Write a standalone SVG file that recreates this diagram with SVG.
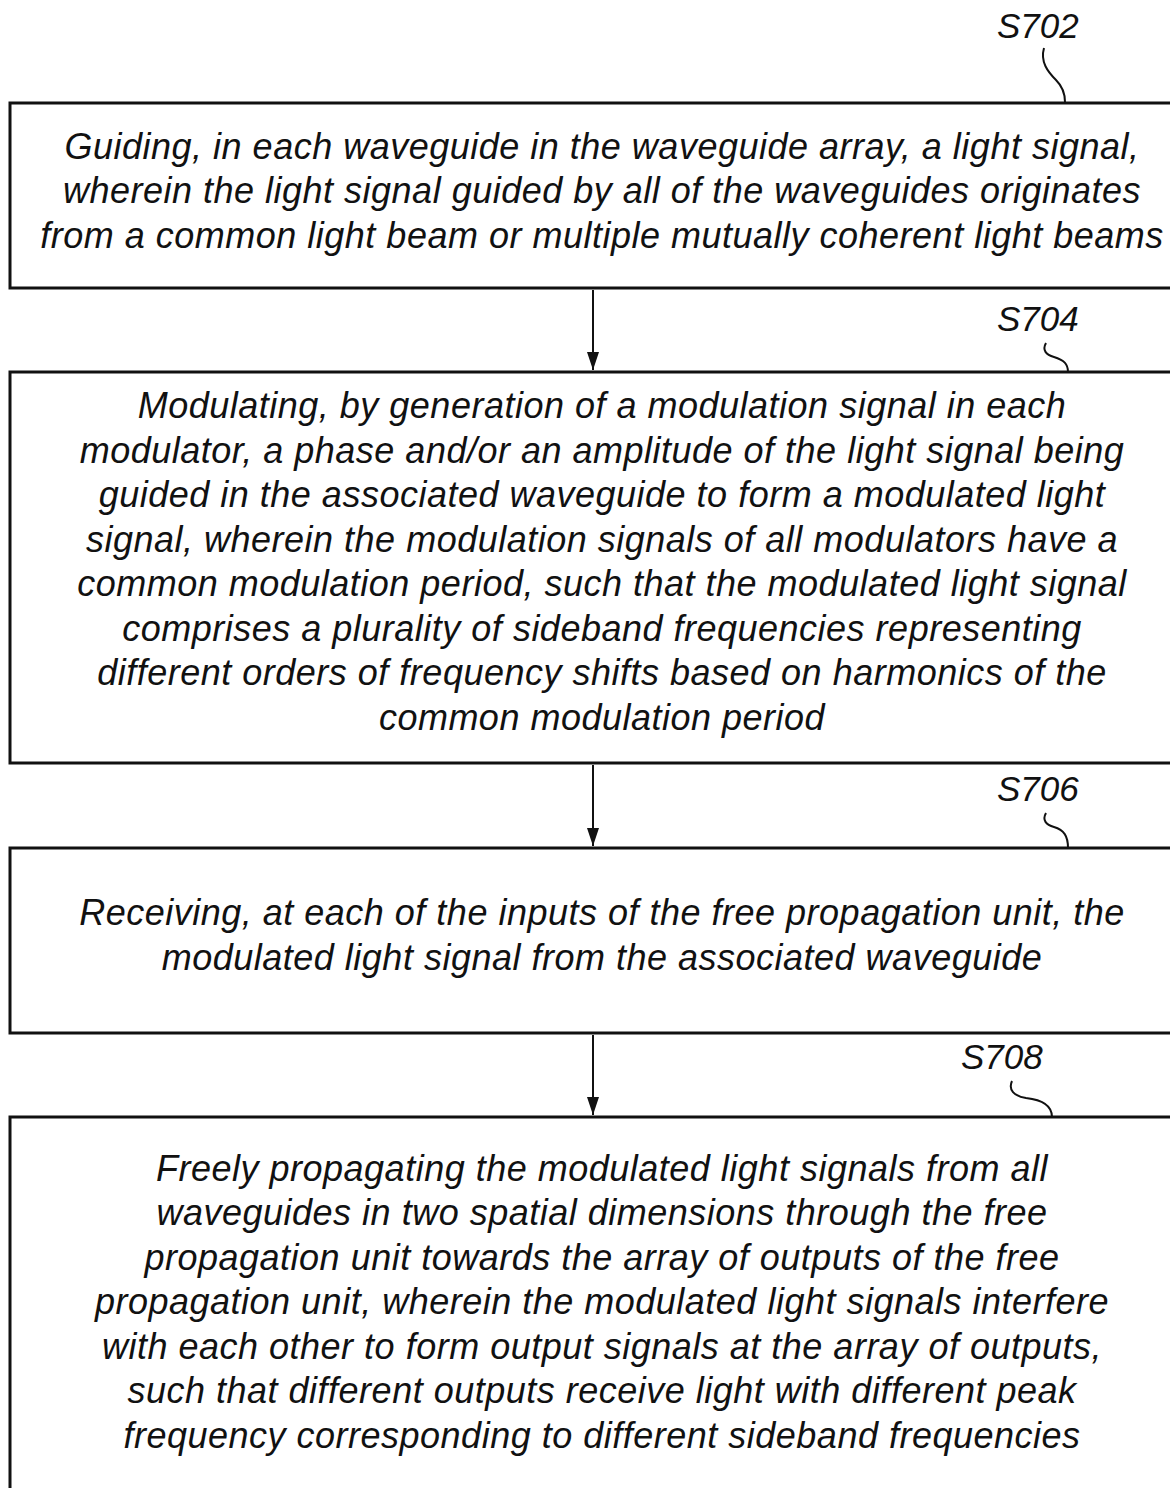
<svg xmlns="http://www.w3.org/2000/svg" width="1170" height="1488" viewBox="0 0 1170 1488">
  <defs>
    <style>
      .box { fill: #fff; stroke: #111; stroke-width: 3; }
      .txt { font-family: "Liberation Sans", Arial, sans-serif; font-style: italic; font-size: 36px; letter-spacing: 0.5px; fill: #111; text-anchor: middle; }
      .lbl { font-family: "Liberation Sans", Arial, sans-serif; font-style: italic; font-size: 35px; fill: #111; }
      .lead { fill: none; stroke: #111; stroke-width: 2; }
      .conn { stroke: #111; stroke-width: 2; fill: none; }
    </style>
    <marker id="arrow" viewBox="0 0 18 12" refX="18" refY="6" markerWidth="18" markerHeight="12" markerUnits="userSpaceOnUse" orient="auto">
      <path d="M0,0 L18,6 L0,12 Z" fill="#111"/>
    </marker>
  </defs>
  <rect width="1170" height="1488" fill="#fff"/>

  <!-- connectors between steps -->
  <g id="connectors">
    <line class="conn" x1="593" y1="290" x2="593" y2="370" marker-end="url(#arrow)"/>
    <line class="conn" x1="593" y1="765" x2="593" y2="846" marker-end="url(#arrow)"/>
    <line class="conn" x1="593" y1="1035" x2="593" y2="1115" marker-end="url(#arrow)"/>
  </g>

  <!-- step S702 -->
  <g id="S702">
    <text class="lbl" x="997" y="38">S702</text>
    <path class="lead" d="M1044,48 C1040,62 1048,72 1056,80 C1062,86 1065,92 1065,102"/>
    <rect class="box" x="10" y="103" width="1175" height="185"/>
    <text class="txt" x="602" y="159">Guiding, in each waveguide in the waveguide array, a light signal,</text>
    <text class="txt" x="602" y="203">wherein the light signal guided by all of the waveguides originates</text>
    <text class="txt" x="602" y="248">from a common light beam or multiple mutually coherent light beams</text>
  </g>

  <!-- step S704 -->
  <g id="S704">
    <text class="lbl" x="997" y="331">S704</text>
    <path class="lead" d="M1046,343 C1042,350 1046,355 1054,357 C1064,360 1068,364 1068,372"/>
    <rect class="box" x="10" y="372" width="1175" height="391"/>
    <text class="txt" x="602" y="418">Modulating, by generation of a modulation signal in each</text>
    <text class="txt" x="602" y="463">modulator, a phase and/or an amplitude of the light signal being</text>
    <text class="txt" x="602" y="507">guided in the associated waveguide to form a modulated light</text>
    <text class="txt" x="602" y="552">signal, wherein the modulation signals of all modulators have a</text>
    <text class="txt" x="602" y="596">common modulation period, such that the modulated light signal</text>
    <text class="txt" x="602" y="641">comprises a plurality of sideband frequencies representing</text>
    <text class="txt" x="602" y="685">different orders of frequency shifts based on harmonics of the</text>
    <text class="txt" x="602" y="730">common modulation period</text>
  </g>

  <!-- step S706 -->
  <g id="S706">
    <text class="lbl" x="997" y="801">S706</text>
    <path class="lead" d="M1046,813 C1042,820 1046,825 1054,827 C1064,830 1068,836 1068,848"/>
    <rect class="box" x="10" y="848" width="1175" height="185"/>
    <text class="txt" x="602" y="925">Receiving, at each of the inputs of the free propagation unit, the</text>
    <text class="txt" x="602" y="970">modulated light signal from the associated waveguide</text>
  </g>

  <!-- step S708 -->
  <g id="S708">
    <text class="lbl" x="961" y="1069">S708</text>
    <path class="lead" d="M1012,1081 C1008,1090 1014,1096 1026,1098 C1044,1100 1052,1106 1052,1117"/>
    <rect class="box" x="10" y="1117" width="1175" height="400"/>
    <text class="txt" x="602" y="1181">Freely propagating the modulated light signals from all</text>
    <text class="txt" x="602" y="1225">waveguides in two spatial dimensions through the free</text>
    <text class="txt" x="602" y="1270">propagation unit towards the array of outputs of the free</text>
    <text class="txt" x="602" y="1314">propagation unit, wherein the modulated light signals interfere</text>
    <text class="txt" x="602" y="1359">with each other to form output signals at the array of outputs,</text>
    <text class="txt" x="602" y="1403">such that different outputs receive light with different peak</text>
    <text class="txt" x="602" y="1448">frequency corresponding to different sideband frequencies</text>
  </g>
</svg>
